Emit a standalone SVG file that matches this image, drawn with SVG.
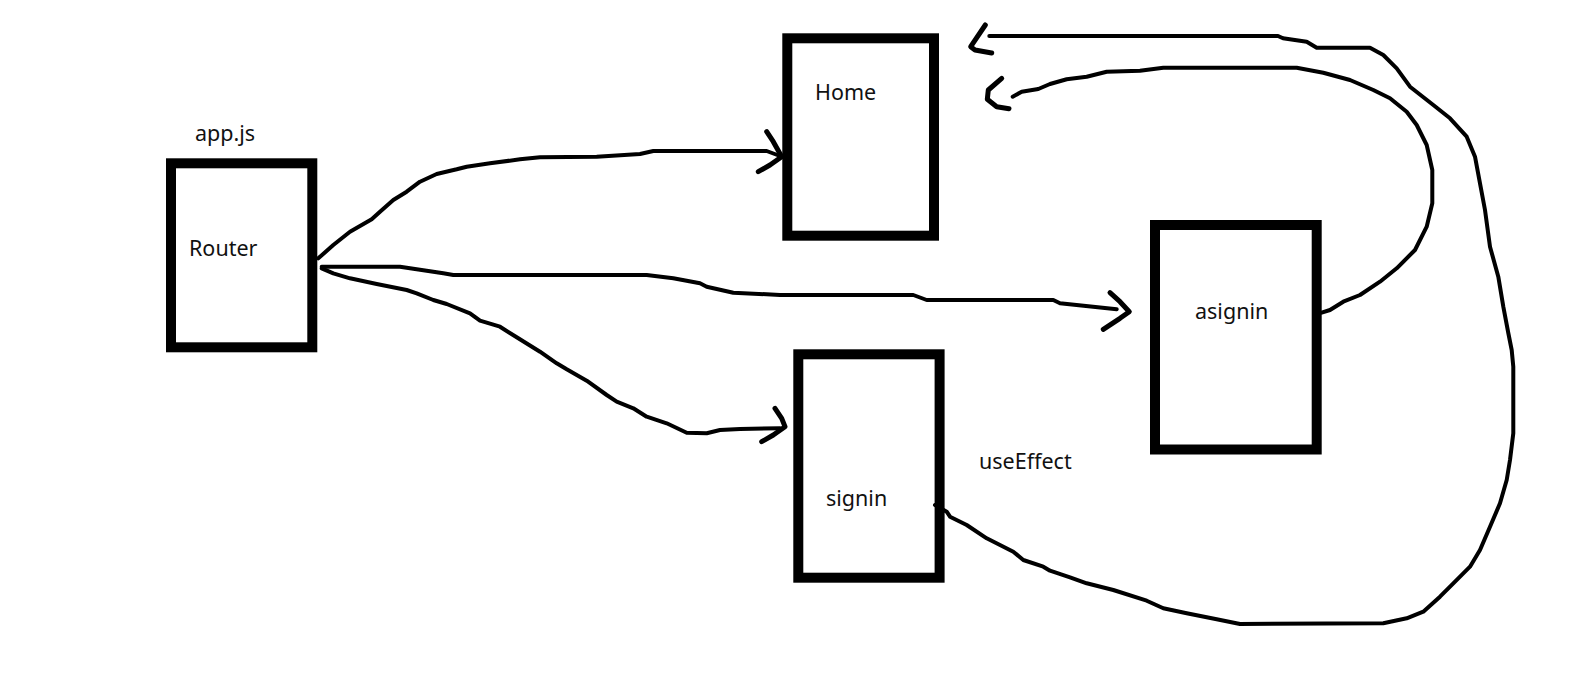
<svg xmlns="http://www.w3.org/2000/svg" width="1575" height="679" viewBox="0 0 1575 679">
  <style>
    .box { fill: #ffffff; stroke: #000000; stroke-width: 10; }
    .label { font-family: "Noto Sans", "Open Sans", sans-serif; font-size: 21.5px; fill: #111111; }
    .wire { fill: none; stroke: #000000; stroke-width: 4; stroke-linecap: round; stroke-linejoin: round; }
    .head { fill: none; stroke: #000000; stroke-width: 5; stroke-linecap: round; stroke-linejoin: round; }
  </style>
  <rect x="0" y="0" width="1575" height="679" fill="#ffffff"/>

  <!-- app.js / Router -->
  <g id="router">
    <rect class="box" x="171" y="163.3" width="141.3" height="184"/>
    <text class="label" x="189" y="256">Router</text>
    <text class="label" x="195" y="141">app.js</text>
  </g>

  <!-- Home page -->
  <g id="home">
    <rect class="box" x="787.3" y="38.3" width="146.7" height="197.4"/>
    <text class="label" x="815" y="100">Home</text>
  </g>

  <!-- signin page -->
  <g id="signin">
    <rect class="box" x="798.3" y="354.3" width="141.3" height="223.4"/>
    <text class="label" x="826" y="506">signin</text>
  </g>

  <!-- asignin page -->
  <g id="asignin">
    <rect class="box" x="1155" y="225" width="161.7" height="224.5"/>
    <text class="label" x="1195" y="319">asignin</text>
  </g>

  <!-- useEffect annotation -->
  <g id="use-effect">
    <text class="label" x="979" y="469">useEffect</text>
  </g>

  <g id="connectors">
    <!-- Router -> Home -->
    <path class="wire" d="M318.3,258.3 L333.3,245 L350,231.7 L371.7,219.3 L380,211.7 L393.3,200 L406.7,191.7 L420,181.7 L436.7,174 L456.7,169.3 L466.7,166.7 L490,163.3 L520,159.3 L540,157.3 L596.7,156.7 L640,154 L653.3,151 L766.7,151 L780,156"/>
    <path class="head" d="M766.7,131.7 L773.3,141.7 L781.7,156.7 L770,165 L758.3,171.7"/>

    <!-- Router -> asignin -->
    <path class="wire" d="M321.7,266.7 L400,266.7 L410,268.3 L443.3,273.3 L453.3,275 L646.7,275 L673.3,278.3 L700,283.3 L706.7,286.7 L733.3,292.7 L780,295 L913.3,295 L926.7,300 L1053.3,300 L1060,303.3 L1116.7,309.3"/>
    <path class="head" d="M1110,292.7 L1120,301.7 L1129.3,311.7 L1120,318.3 L1103.3,329.3"/>

    <!-- Router -> signin -->
    <path class="wire" d="M321.7,268.3 L333.3,273.3 L350,278.3 L376.7,284 L406.7,290 L416.7,293.3 L433.3,300 L446.7,304 L470,313.3 L480,320.7 L500,326.7 L516.7,337.3 L540,351.7 L556.7,363.3 L566.7,369.3 L586.7,380.7 L606.7,395 L616.7,401.7 L633.3,408.3 L646.7,416.7 L666.7,423.3 L686.7,432.7 L706.7,433.3 L720,430 L740,429 L780,428.3"/>
    <path class="head" d="M775,408.3 L781.7,418.3 L785,426.7 L773.3,435 L761.7,441.7"/>

    <!-- asignin -> Home -->
    <path class="wire" d="M1321.7,312.7 L1330,310 L1343.3,301.7 L1360,295 L1380,281.7 L1396.7,268.3 L1415,250 L1426.7,226.7 L1432.3,203.3 L1432.3,170 L1426.7,145 L1416.7,125 L1406.7,111.7 L1390,98.3 L1373.3,90 L1350,80 L1323.3,72.7 L1296.7,67.7 L1163.3,67.7 L1140,70.7 L1106.7,71.7 L1086.7,76.7 L1066.7,79.3 L1050,84 L1038.3,89 L1021.7,91.7 L1012.7,96.7"/>
    <path class="head" d="M1001.7,78.3 L988.3,90 L987.3,99.3 L996.7,106.7 L1009,108.7"/>

    <!-- signin (useEffect) -> Home -->
    <path class="wire" d="M935,505 L946.7,511.7 L950,516.7 L966.7,525 L986.7,538.3 L1013.3,551.7 L1023.3,560 L1043.3,566.7 L1050,570.7 L1070,577.3 L1086.7,583.3 L1113.3,590 L1146.7,600.7 L1163.3,608.3 L1186.7,613.3 L1216.7,619.3 L1240,624 L1383.3,623.3 L1406.7,618.3 L1423.3,611.7 L1440,596.7 L1453.3,583.3 L1470,566.7 L1480,550 L1490,526.7 L1500,503.3 L1506.7,480 L1510,460 L1513.3,433.3 L1513.3,366.7 L1511.7,350 L1508.3,333 L1503.3,306.7 L1498.3,276.7 L1490,246.7 L1485,210 L1480,183.3 L1475,156.7 L1466.7,136.7 L1450,118.3 L1433.3,105 L1410,86.7 L1396.7,68.3 L1383.3,55 L1370,47.7 L1316.7,47.7 L1306.7,41.7 L1283,38.3 L1278,36 L989.3,36"/>
    <path class="head" d="M985.3,25 L970.7,46.7 L975,50 L991.7,53"/>
  </g>
</svg>
